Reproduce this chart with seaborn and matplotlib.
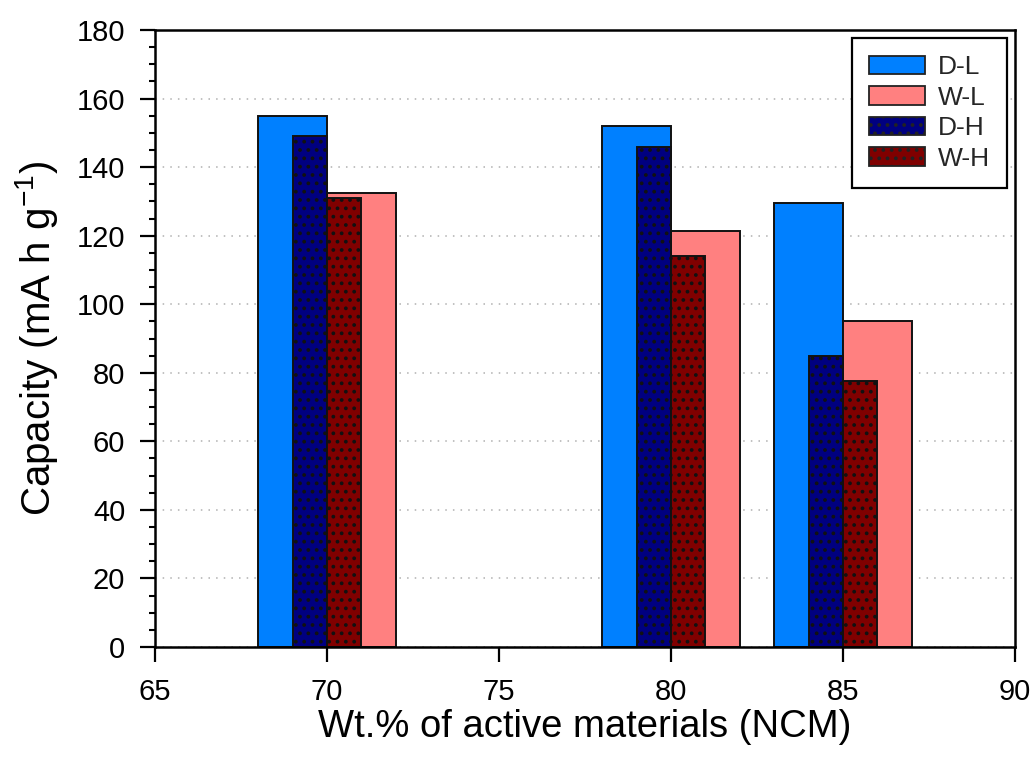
import numpy as np
import pandas as pd
import matplotlib
matplotlib.use("Agg")
import matplotlib.pyplot as plt
from matplotlib.patches import Patch
from matplotlib.ticker import MultipleLocator
import seaborn as sns

# Capacity of electrodes vs. active-material loading
wt_percent = [70, 80, 85]
cap_dl = [155, 152, 129.5]
cap_wl = [132.5, 121.5, 95]
cap_dh = [149, 146, 85]
cap_wh = [131, 114, 77.5]

series_names = ["D-L", "W-L", "D-H", "W-H"]
colors = {"D-L": "#0080FF", "W-L": "#FF8080", "D-H": "#000080", "W-H": "#800000"}

low = pd.DataFrame({
    "wt": wt_percent * 2,
    "cap": cap_dl + cap_wl,
    "sample": ["D-L"] * 3 + ["W-L"] * 3,
})
high = pd.DataFrame({
    "wt": wt_percent * 2,
    "cap": cap_dh + cap_wh,
    "sample": ["D-H"] * 3 + ["W-H"] * 3,
})

sns.set_theme(style="white")
plt.rcParams.update({
    "font.family": ["Liberation Sans", "DejaVu Sans"],
    "mathtext.fontset": "custom",
    "mathtext.rm": "Liberation Sans",
    "mathtext.it": "Liberation Sans:italic",
    "hatch.color": "black",
    "hatch.linewidth": 1.5,
    "xtick.bottom": True,
    "ytick.left": True,
    "xtick.direction": "out",
    "ytick.direction": "out",
    "xtick.major.size": 10.5,
    "ytick.major.size": 10.5,
    "ytick.minor.size": 4,
    "xtick.major.width": 1.6,
    "ytick.major.width": 1.6,
    "ytick.minor.width": 1.5,
    "xtick.major.pad": 12,
    "ytick.major.pad": 11,
    "xtick.labelsize": 21,
    "ytick.labelsize": 21,
    "xtick.color": "black",
    "ytick.color": "black",
})

fig = plt.figure(figsize=(10.34, 7.71), dpi=100)
ax = fig.add_axes([0.150, 0.1608, 0.8316, 0.8003])

bar_kw = dict(x="wt", y="cap", hue="sample", native_scale=True, dodge=True,
              errorbar=None, legend=False, edgecolor="#111111", linewidth=1.4,
              saturation=1, ax=ax)

# wide bars (L series), then the narrower hatched H series on top
sns.barplot(data=low, hue_order=["D-L", "W-L"],
            palette=[colors["D-L"], colors["W-L"]], width=0.8, **bar_kw)
n_low = len(ax.patches)
sns.barplot(data=high, hue_order=["D-H", "W-H"],
            palette=[colors["D-H"], colors["W-H"]], width=0.4, **bar_kw)
for p in ax.patches[n_low:]:
    p.set_hatch("..")

ax.set_xlim(65, 90)
ax.set_ylim(0, 180)
ax.xaxis.set_major_locator(MultipleLocator(5))
ax.yaxis.set_major_locator(MultipleLocator(20))
ax.yaxis.set_minor_locator(MultipleLocator(5))

ax.set_axisbelow(True)
ax.yaxis.grid(True, which="major", color="#b0b0b0", linestyle=(0, (1, 4)), linewidth=1.1)
ax.xaxis.grid(False)

for s in ax.spines.values():
    s.set_visible(True)
    s.set_color("black")
    s.set_linewidth(1.8)

ax.tick_params(axis="x", which="minor", bottom=False, top=False)
ax.tick_params(axis="y", which="both", right=False)
ax.tick_params(axis="x", which="both", top=False)

ax.set_xlabel("Wt.% of active materials (NCM)", fontsize=27.5, labelpad=2, color="black")
ax.set_ylabel(r"Capacity (mA h g$^{-1}$)", fontsize=29, labelpad=12, color="black")

handles = [Patch(facecolor=colors[n], edgecolor="#222222", linewidth=1.3,
                 hatch=".." if n.endswith("H") else None, label=n)
           for n in series_names]
leg = ax.legend(handles=handles, loc="upper right", fontsize=19, frameon=True,
                fancybox=False, edgecolor="black", framealpha=1,
                handlelength=2.1, handleheight=0.7, handletextpad=0.5,
                labelspacing=0.25, borderpad=0.65, borderaxespad=0.3)
leg.get_frame().set_linewidth(1.6)

fig.savefig("out.png", dpi=100)
